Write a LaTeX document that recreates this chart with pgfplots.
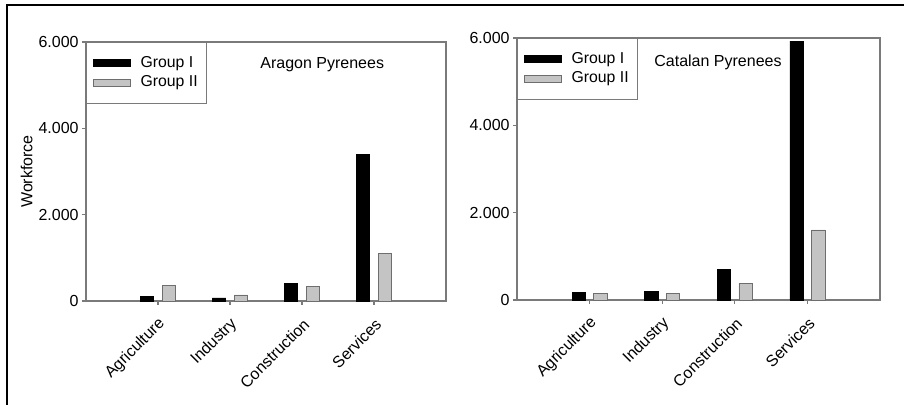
\documentclass[border=0pt]{standalone}
\usepackage{pgfplots}
\pgfplotsset{compat=1.18}
\usepackage{fontspec}
\setmainfont{Liberation Sans}
\definecolor{axisgray}{HTML}{7A7A7A}
\definecolor{barlight}{HTML}{C4C4C4}
\definecolor{barlightedge}{HTML}{6E6E6E}
\pgfplotsset{
  panel/.style={
    scale only axis,
    anchor=south west,
    xmin=0, xmax=5, ymin=0, ymax=6000,
    xtick={1,2,3,4},
    xticklabels={Agriculture,Industry,Construction,Services},
    ytick={0,2000,4000,6000},
    yticklabels={0,2.000,4.000,6.000},
    axis line style={axisgray, line width=0.7pt},
    tick style={axisgray, line width=0.6pt},
    tick align=outside,
    major tick length=2pt,
    xtick pos=bottom, ytick pos=left,
    font=\fontsize{8}{9.6}\selectfont,
    xticklabel style={xshift=3pt, yshift=-7.5pt, rotate=45, anchor=east, inner sep=1pt},
    yticklabel style={inner sep=1.5pt},
    /pgf/number format/assume math mode=true,
    ybar, bar width=6.7pt,
    legend style={at={(0,1)}, anchor=north west, draw=axisgray, line width=0.6pt,
      font=\fontsize{7.9}{9.5}\selectfont, row sep=-0.5pt, inner xsep=3pt, inner ysep=5.2pt,
      nodes={inner xsep=1.5pt, inner ysep=1.2pt, text height=6pt, text depth=1.8pt},
      /tikz/every odd column/.append style={column sep=3.5pt}},
    legend cell align=left,
    legend image code/.code={\draw[#1, line width=0.5pt] (0pt,-1.7pt) rectangle (18.5pt,1.7pt);},
    clip=false,
  }
}
\begin{document}
\begin{tikzpicture}
\useasboundingbox (0,0) rectangle (452pt,202.5pt);
\draw[black, line width=0.8pt] (3.5pt,0) -- (3.5pt,200pt) -- (452pt,200pt);
% Left panel
\begin{axis}[panel, at={(43pt,52pt)}, width=180pt, height=129.5pt,
  ylabel={Workforce}, ylabel style={yshift=-2pt}]
\addplot[draw=black, fill=black, bar shift=-5.4pt] coordinates {(1,100) (2,70) (3,410) (4,3400)};
\addplot[draw=barlightedge, fill=barlight, bar shift=5.4pt] coordinates {(1,350) (2,140) (3,330) (4,1100)};
\legend{Group I, Group II}
\node[anchor=west, inner sep=0pt] at (axis cs:2.417,5480) {Aragon Pyrenees};
\end{axis}
% Right panel
\begin{axis}[panel, at={(258.5pt,52.5pt)}, width=181.5pt, height=131pt]
\addplot[draw=black, fill=black, bar shift=-5.4pt] coordinates {(1,176) (2,190) (3,703) (4,5930)};
\addplot[draw=barlightedge, fill=barlight, bar shift=5.4pt] coordinates {(1,153) (2,150) (3,382) (4,1605)};
\legend{Group I, Group II}
\node[anchor=west, inner sep=0pt] at (axis cs:1.887,5440) {Catalan Pyrenees};
\end{axis}
\end{tikzpicture}
\end{document}
